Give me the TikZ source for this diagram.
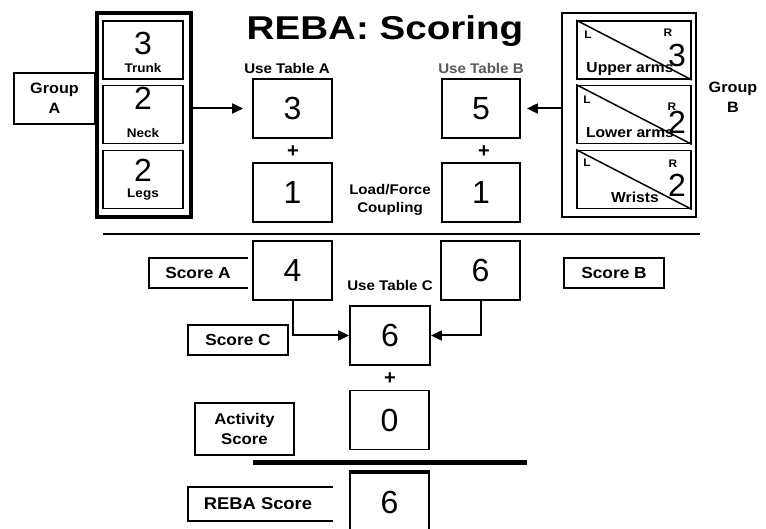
\documentclass[tikz,border=0pt]{standalone}
\usepackage{fontspec}
\setmainfont{Liberation Sans}
\newfontfamily\labf[FakeStretch=1.08]{Liberation Sans}
\newfontfamily\titf[FakeStretch=1.17]{Liberation Sans}
\usetikzlibrary{arrows.meta}
\begin{document}
\begin{tikzpicture}[x=1pt,y=-1pt,
  box/.style={draw, line width=1.8pt, minimum width=79pt, minimum height=59pt, inner sep=0pt, font=\fontsize{32}{32}\selectfont},
  ibox/.style={draw, line width=1.8pt, minimum height=58pt, inner sep=0pt},
  dig/.style={inner sep=0pt, font=\fontsize{32}{32}\selectfont},
  sbox/.style={draw, line width=1.5pt, inner sep=0pt, align=center, font=\labf\bfseries\fontsize{15}{20}\selectfont},
  lab/.style={inner sep=0pt, align=center, font=\labf\bfseries\fontsize{14}{18}\selectfont},
  ilab/.style={inner sep=0pt, font=\labf\bfseries\fontsize{12.5}{14}\selectfont},
  blab/.style={inner sep=0pt, font=\labf\bfseries\fontsize{14.5}{16}\selectfont},
  small/.style={inner sep=0pt, font=\labf\bfseries\fontsize{11}{11}\selectfont},
  plus/.style={inner sep=0pt, font=\bfseries\fontsize{20}{20}\selectfont},
  arr/.style={line width=2pt, -{Triangle[length=11pt,width=10pt]}}]
\clip (0,0) rectangle (766,529);
% title
\node[inner sep=0pt, font=\titf\bfseries\fontsize{33}{33}\selectfont] (title) at (385,31) {REBA: Scoring};
% Group A
\node[sbox, minimum width=81pt, minimum height=51pt] (grpA) at (54.5,98.5) {Group\\A};
\node[draw, line width=3.5pt, minimum width=94pt, minimum height=204pt, inner sep=0pt] (outA) at (144,115) {};
\node[ibox, minimum width=80pt] (trunk) at (143,50) {};
\node[dig] (trunkN) at (143,43) {3};
\node[ilab] (trunkL) at (143,68) {Trunk};
\node[ibox, minimum width=80pt] (neck) at (143,114.5) {};
\node[dig] (neckN) at (143,98) {2};
\node[ilab] (neckL) at (143,133) {Neck};
\node[ibox, minimum width=80pt] (legs) at (143,179.5) {};
\node[dig] (legsN) at (143,170) {2};
\node[ilab] (legsL) at (143,195) {Legs};
% Table A column
\node[lab] (useA) at (287,68) {Use Table A};
\node[box] (tA) at (292.5,108.5) {3};
\node[plus] (plusA) at (293,152) {+};
\node[box] (lfA) at (292.5,192.5) {1};
\node[lab, font=\labf\bfseries\fontsize{14}{18}\selectfont] (lf) at (390,200) {Load/Force\\Coupling};
% Table B column
\node[lab, text=black!65] (useB) at (481,68) {Use Table B};
\node[box, minimum width=78pt] (tB) at (481,108.5) {5};
\node[plus] (plusB) at (484,152) {+};
\node[box, minimum width=78pt] (lfB) at (481,192.5) {1};
% Group B
\node[draw, line width=2.2pt, minimum width=134pt, minimum height=204pt, inner sep=0pt] (outB) at (629,115) {};
\node[ibox, minimum width=114pt] (ua) at (634,50) {};
\draw[line width=1.5pt] (ua.north west) -- (ua.south east);
\node[small] (uaL) at (588,35) {L};
\node[small] (uaR) at (668,33) {R};
\node[dig] (uaN) at (677,55) {3};
\node[blab] (uaT) at (630,69) {Upper arms};
\node[ibox, minimum width=114pt] (la) at (634,114.5) {};
\draw[line width=1.5pt] (la.north west) -- (la.south east);
\node[small] (laL) at (587,100) {L};
\node[small] (laR) at (672,107) {R};
\node[dig] (laN) at (677,122) {2};
\node[blab] (laT) at (630,133) {Lower arms};
\node[ibox, minimum width=114pt] (wr) at (634,179.5) {};
\draw[line width=1.5pt] (wr.north west) -- (wr.south east);
\node[small] (wrL) at (587,163) {L};
\node[small] (wrR) at (673,164) {R};
\node[dig] (wrN) at (677,185) {2};
\node[blab] (wrT) at (635,197) {Wrists};
\node[lab, font=\labf\bfseries\fontsize{15}{20}\selectfont] (grpB) at (733,97) {Group\\B};
% arrows top
\draw[arr, shorten >=9pt] (outA.east |- tA.west) -- (tA.west);
\draw[arr, shorten >=6pt] (outB.west |- tB.east) -- (tB.east);
% separator
\coordinate (h1) at (103,234);
\coordinate (h2) at (700,234);
\draw[line width=2.5pt] (h1) -- (h2);
% scores
\node[inner sep=0pt, font=\labf\bfseries\fontsize{16}{16}\selectfont] (scA) at (198,273) {Score A};
\draw[line width=1.5pt] (248,258) -| (149,288) -- (248,288);
\node[box] (sA) at (292.5,270.5) {4};
\node[box] (sB) at (480.5,270.5) {6};
\node[sbox, minimum width=100pt, minimum height=30pt, font=\labf\bfseries\fontsize{16}{16}\selectfont] (scB) at (614,273) {Score B};
\node[lab] (useC) at (390,285) {Use Table C};
\node[box, minimum width=80pt] (sC) at (390,335.5) {6};
\node[sbox, minimum width=100pt, minimum height=30pt, font=\labf\bfseries\fontsize{16}{16}\selectfont] (scC) at (238,340) {Score C};
\draw[arr] (sA.south) |- (sC.west);
\draw[arr] (sB.south) |- (sC.east);
\node[plus] (plusC) at (390,379) {+};
\node[box] (act) at (389.5,420) {0};
\node[sbox, minimum width=99pt, minimum height=52pt, font=\labf\bfseries\fontsize{15.5}{20}\selectfont] (actL) at (244.5,429) {Activity\\Score};
\coordinate (t1) at (253,462);
\coordinate (t2) at (527,462);
\draw[line width=5pt] (t1) -- (t2);
\node[inner sep=0pt, font=\labf\bfseries\fontsize{17}{17}\selectfont] (reba) at (258,504) {REBA Score};
\draw[line width=1.5pt] (333,487) -| (188,521) -- (333,521);
\node[box] (fin) at (389.5,502.5) {6};
\draw[line width=4pt] (fin.north west) -- (fin.north east);
\end{tikzpicture}
\end{document}
